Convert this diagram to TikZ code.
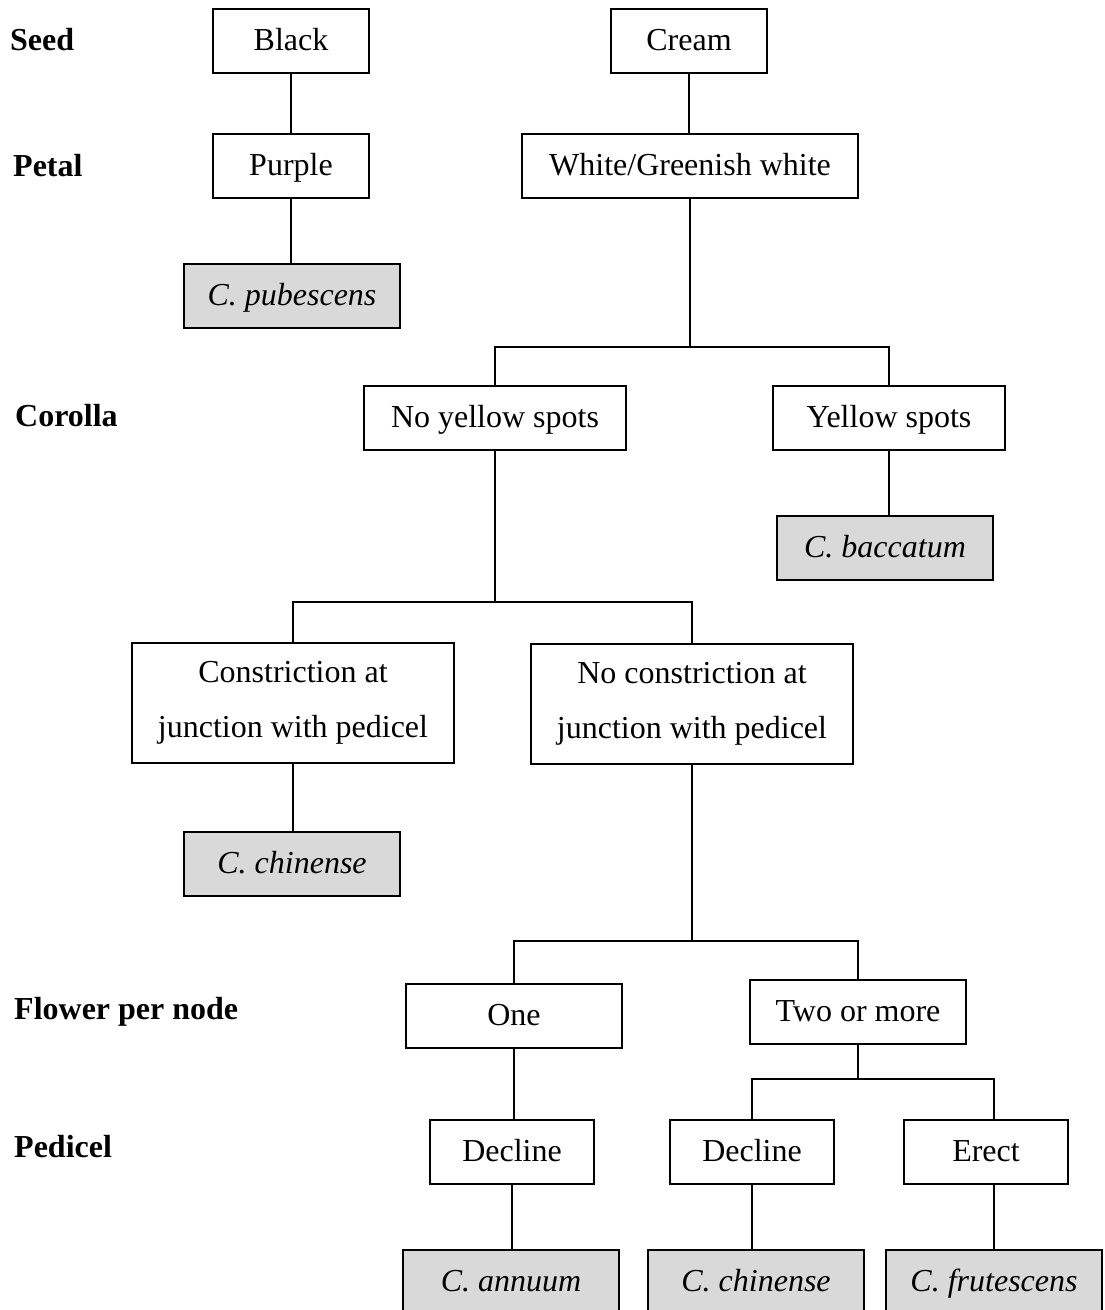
\documentclass[tikz,border=0pt]{standalone}
\usepackage{fontspec}
\setmainfont{Liberation Serif}
\definecolor{leafgray}{RGB}{217,217,217}
\tikzset{
  boxbase/.style={draw, line width=2pt, inner sep=0pt, align=center,
    font=\fontsize{32}{55}\selectfont},
  box/.style={boxbase, text height=24pt, text depth=5pt},
  twoline/.style={boxbase},
  leaf/.style={box, fill=leafgray, font=\fontsize{32}{55}\selectfont\itshape},
  lab/.style={anchor=base west, inner sep=0pt, font=\fontsize{32}{38}\selectfont\bfseries},
  conn/.style={line width=2pt}
}
\begin{document}
\begin{tikzpicture}[x=1pt,y=-1pt]
\useasboundingbox (0,0) rectangle (1104,1310);
\clip (0,0) rectangle (1104,1310);
\fill[white] (0,0) rectangle (1104,1310);

% row labels
\node[lab] (lseed) at (10,50) {Seed};
\node[lab] (lpetal) at (13,176) {Petal};
\node[lab] (lcor) at (15,426) {Corolla};
\node[lab] (lflow) at (14,1019) {Flower per node};
\node[lab] (lped) at (14,1157) {Pedicel};

% boxes
\node[box, minimum width=156pt, minimum height=64pt] (black) at (291,41) {Black};
\node[box, minimum width=156pt, minimum height=64pt] (purple) at (291,166) {Purple};
\node[leaf, minimum width=216pt, minimum height=64pt] (pub) at (292,296) {C. pubescens};
\node[box, minimum width=156pt, minimum height=64pt] (cream) at (689,41) {Cream};
\node[box, minimum width=336pt, minimum height=64pt] (white) at (690,166) {White/Greenish white};
\node[box, minimum width=262pt, minimum height=64pt] (ny) at (495,418) {No yellow spots};
\node[box, minimum width=232pt, minimum height=64pt] (ys) at (889,418) {Yellow spots};
\node[leaf, minimum width=216pt, minimum height=64pt] (bac) at (885,548) {C. baccatum};
\node[twoline, minimum width=322pt, minimum height=120pt] (con) at (293,703) {Constriction at\\junction with pedicel};
\node[twoline, minimum width=322pt, minimum height=120pt] (nocon) at (692,704) {No constriction at\\junction with pedicel};
\node[leaf, minimum width=216pt, minimum height=64pt] (chi1) at (292,864) {C. chinense};
\node[box, minimum width=216pt, minimum height=64pt] (one) at (514,1016) {One};
\node[box, minimum width=216pt, minimum height=64pt] (two) at (858,1012) {Two or more};
\node[box, minimum width=164pt, minimum height=64pt] (dec1) at (512,1152) {Decline};
\node[box, minimum width=164pt, minimum height=64pt] (dec2) at (752,1152) {Decline};
\node[box, minimum width=164pt, minimum height=64pt] (erect) at (986,1152) {Erect};
\node[leaf, minimum width=216pt, minimum height=64pt] (ann) at (511,1282) {C. annuum};
\node[leaf, minimum width=216pt, minimum height=64pt] (chi2) at (756,1282) {C. chinense};
\node[leaf, minimum width=216pt, minimum height=64pt] (fru) at (994,1282) {C. frutescens};

% branch levels
\coordinate (h1) at (0,347);
\coordinate (h2) at (0,602);
\coordinate (h3) at (0,941);
\coordinate (h4) at (0,1079);
\coordinate (j1) at (white.south |- h1);
\coordinate (j2) at (ny.south |- h2);
\coordinate (j3) at (nocon.south |- h3);
\coordinate (j4) at (two.south |- h4);
\coordinate (ve) at (fru.north |- erect.south);

% connectors
\draw[conn] (black.south) -- (black.south |- purple.north);
\draw[conn] (purple.south) -- (purple.south |- pub.north);
\draw[conn] (cream.south) -- (cream.south |- white.north);
\draw[conn] (white.south) -- (j1);
\draw[conn] (ny.north) |- (j1) -| (ys.north);
\draw[conn] (ys.south) -- (ys.south |- bac.north);
\draw[conn] (ny.south) -- (j2);
\draw[conn] (con.north) |- (j2) -| (nocon.north);
\draw[conn] (con.south) -- (con.south |- chi1.north);
\draw[conn] (nocon.south) -- (j3);
\draw[conn] (one.north) |- (j3) -| (two.north);
\draw[conn] (one.south) -- (one.south |- dec1.north);
\draw[conn] (two.south) -- (j4);
\draw[conn] (dec2.north) |- (j4) -| (ve |- erect.north);
\draw[conn] (dec1.south) -- (dec1.south |- ann.north);
\draw[conn] (dec2.south) -- (dec2.south |- chi2.north);
\draw[conn] (ve) -- (ve |- fru.north);
\end{tikzpicture}
\end{document}
